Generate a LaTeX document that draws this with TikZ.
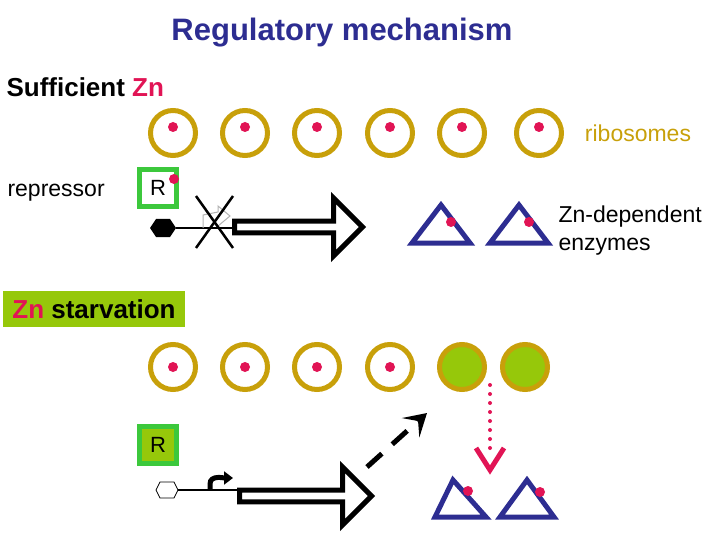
\documentclass[tikz,border=0pt]{standalone}
\usepackage{fontspec}
\setmainfont{Liberation Sans}
\usetikzlibrary{shapes.arrows,arrows.meta}
\definecolor{ringgold}{RGB}{200,160,10}
\definecolor{znred}{RGB}{225,20,85}
\definecolor{navy}{RGB}{45,45,145}
\definecolor{boxgreen}{RGB}{60,200,60}
\definecolor{lime}{RGB}{150,200,10}
\tikzset{
  ribo/.style={circle, draw=ringgold, line width=5pt, minimum size=45pt, inner sep=0pt},
  dot/.style={circle, fill=znred, minimum size=10pt, inner sep=0pt},
  enzyme/.style={draw=navy, line width=5pt, line join=miter},
  repbox/.style={draw=boxgreen, line width=5pt, minimum size=37pt, inner sep=0pt, font=\fontsize{22}{22}\selectfont},
  gene/.style={single arrow, draw=black, line width=5pt, fill=white,
    minimum height=128pt, minimum width=58pt, single arrow head extend=10pt, inner sep=0pt},
  lbl/.style={font=\fontsize{23}{28}\selectfont},
}
\begin{document}
\begin{tikzpicture}[x=1pt,y=-1pt]
  \useasboundingbox (0,0) rectangle (720,540);
  \node[text=navy, font=\fontsize{31}{34}\selectfont\bfseries] (title) at (342,33) {Regulatory mechanism};
  \node[lbl, font=\fontsize{26}{28}\selectfont\bfseries, anchor=west] (suff) at (3,87) {Sufficient \textcolor{znred}{Zn}};
  % top row of ribosomes
  \foreach \x/\n in {173/a,245/b,317/c,390/d,462/e,539/f} {
    \node[ribo] (top\n) at (\x,133) {};
    \node[dot] at (\x,127) {};
  }
  \node[lbl, text=ringgold] (ribolbl) at (638,133) {ribosomes};
  \node[lbl, anchor=west] (replbl) at (4,193) {repressor};
  \node[repbox, fill=white] (rtop) at (158,188) {R};
  \node[dot] at (174,179) {};
  % repressed gene
  \fill (150,228) -- (156,219) -- (170,219) -- (176,228) -- (170,237) -- (156,237) -- cycle;
  \draw[line width=2pt] (176,228) -- (235,228);
  \draw[gray!60, line width=1pt] (203,228) -- (203,215) -- (218,212) -- (218,206) -- (230,216) -- (218,226);
  \draw[line width=2.5pt] (196,196) -- (233,248);
  \draw[line width=2.5pt] (233,196) -- (196,248);
  \node[gene, anchor=tail] (genetop) at (232,227) {};
  \draw[enzyme] (441,205) -- (470,243) -- (412,243) -- cycle;
  \draw[enzyme] (519,205) -- (548,243) -- (490,243) -- cycle;
  \node[dot] at (451,222) {};
  \node[dot] at (529,222) {};
  \node[lbl, anchor=west, align=left] (enzlbl) at (555,231) {Zn-dependent\\enzymes};
  % starvation
  \node[lbl, font=\fontsize{26}{28}\selectfont\bfseries, fill=lime, minimum height=36pt, minimum width=182pt, inner sep=2pt] (starv) at (94,309) {\textcolor{znred}{Zn} starvation};
  \foreach \x/\n in {173/a,245/b,317/c,390/d} {
    \node[ribo] (bot\n) at (\x,367) {};
    \node[dot] at (\x,367) {};
  }
  \node[ribo, fill=lime] (bote) at (462,367) {};
  \node[ribo, fill=lime] (botf) at (525,367) {};
  \node[repbox, fill=lime] (rbot) at (158,445) {R};
  % derepressed gene
  \draw[line width=0.7pt, fill=white] (156,490) -- (160,482) -- (174,482) -- (178,490) -- (174,498) -- (160,498) -- cycle;
  \draw[line width=2pt] (178,490) -- (240,490);
  \draw[line width=5pt, -{Triangle[length=9pt,width=13pt]}] (210,490) -- (210,484) to[out=90,in=180] (233,478);
  \node[gene, anchor=tail, minimum width=58pt, minimum height=132pt] (genebot) at (237,496) {};
  \coordinate (dashs) at (367,467);
  \coordinate (dashe) at (427,413);
  \draw[line width=5pt, dash pattern=on 20pt off 14pt, -{Stealth[length=22pt,width=26pt,inset=10pt]}] (dashs) -- (dashe);
  \draw[znred, line width=4pt, line cap=round, dash pattern=on 0pt off 9pt] (490,385) -- (490,455);
  \draw[znred, line width=5pt] (476,448) -- (490,470) -- (504,448);
  \draw[enzyme] (453,480) -- (486,517) -- (435,517) -- cycle;
  \draw[enzyme] (527,480) -- (554,517) -- (500,517) -- cycle;
  \node[dot] at (468,491) {};
  \node[dot] at (540,492) {};
\end{tikzpicture}
\end{document}
